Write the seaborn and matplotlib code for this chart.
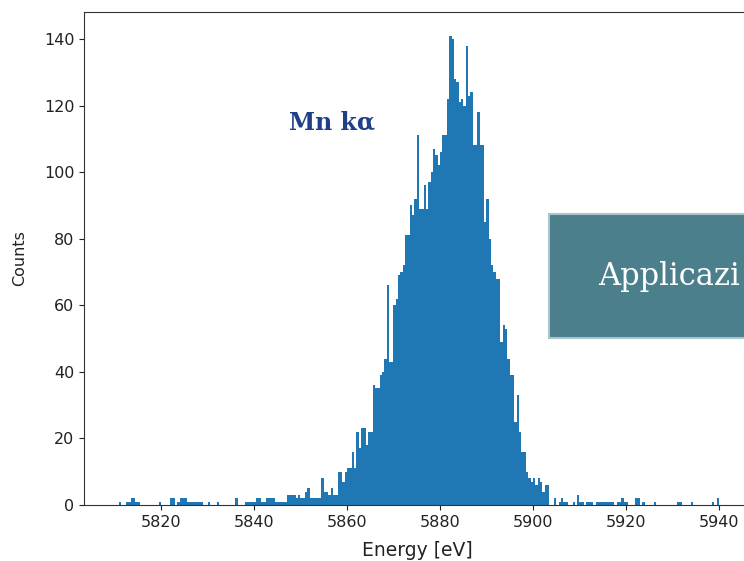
import numpy as np
import pandas as pd
import matplotlib
matplotlib.use("Agg")
import matplotlib.pyplot as plt
import seaborn as sns
from matplotlib.patches import Rectangle

# ---- data: Mn K-alpha spectrum, counts per 0.5 eV bin starting at 5810 eV ----
bin_start = 5810.0
bin_width = 0.5
counts = [
    0, 0, 1, 0, 0, 1, 1, 2, 2, 1,          # 5810-5815
    1, 0, 0, 0, 0, 0, 0, 0, 0, 1,          # 5815-5820
    0, 0, 0, 0, 2, 2, 0, 1, 2, 2,          # 5820-5825
    2, 1, 1, 1, 1, 1, 1, 1, 0, 0,          # 5825-5830
    1, 0, 0, 0, 1, 0, 0, 0, 0, 0,          # 5830-5835
    0, 0, 2, 0, 0, 0, 1, 1, 1, 1,          # 5835-5840
    1, 2, 2, 1, 1, 2, 2, 2, 2, 1,          # 5840-5845
    1, 1, 1, 1, 3, 3, 3, 3, 2, 3,          # 5845-5850
    2, 2, 4, 5, 2, 2, 2, 2, 2, 8,          # 5850-5855
    4, 4, 3, 5, 3, 3, 10, 10, 7, 10,       # 5855-5860
    11, 11, 16, 11, 22, 17, 23, 23, 18, 22,  # 5860-5865
    22, 36, 35, 35, 39, 40, 44, 66, 43, 43,  # 5865-5870
    60, 62, 69, 70, 72, 81, 81, 90, 87, 92,  # 5870-5875
    111, 89, 89, 96, 89, 97, 100, 107, 105, 102,  # 5875-5880
    106, 111, 111, 122, 141, 140, 128, 127, 121, 122,  # 5880-5885
    120, 138, 123, 124, 108, 108, 118, 108, 108, 85,  # 5885-5890
    92, 80, 72, 70, 68, 68, 49, 54, 53, 44,  # 5890-5895
    39, 39, 25, 33, 22, 16, 16, 10, 8, 7,    # 5895-5900
    8, 6, 8, 7, 4, 6, 6, 0, 0, 2,            # 5900-5905
    0, 1, 2, 1, 1, 0, 0, 1, 0, 3,            # 5905-5910
    1, 1, 0, 1, 1, 1, 0, 1, 1, 1,            # 5910-5915
    1, 1, 1, 1, 1, 0, 1, 1, 2, 1,            # 5915-5920
    1, 0, 0, 0, 2, 2, 0, 1, 0, 0,            # 5920-5925
    0, 0, 1, 0, 0, 0, 0, 0, 0, 0,            # 5925-5930
    0, 0, 1, 1, 0, 0, 0, 0, 1, 0,            # 5930-5935
    0, 0, 0, 0, 0, 0, 0, 1, 0, 2,            # 5935-5940
    0,                                       # 5940-5940.5
]
x_ticks = [5820, 5840, 5860, 5880, 5900, 5920, 5940]
y_ticks = [0, 20, 40, 60, 80, 100, 120, 140]
peak_label = "Mn kα"
box_label = "Applicazi"

edges = bin_start + bin_width * np.arange(len(counts) + 1)
centers = (edges[:-1] + edges[1:]) / 2
df = pd.DataFrame({"energy": centers, "counts": counts})

# ---- figure ----
W, H = 744, 561
fig = plt.figure(figsize=(W / 100, H / 100), dpi=100)
ax = fig.add_axes([84 / W, (H - 505) / H, 666 / W, 493 / H])

sns.histplot(data=df, x="energy", weights="counts", bins=list(edges),
             color="#1f77b4", alpha=1, linewidth=0, ax=ax)

ax.set_xlim(5803.44, 5946.67)
ax.set_ylim(0, 148.1)
ax.set_xticks(x_ticks)
ax.set_yticks(y_ticks)
ax.tick_params(labelsize=11.5, colors="#222222")
for s in ax.spines.values():
    s.set_color("#333333")
ax.set_xlabel("Energy [eV]", fontsize=13.5, color="#222222", labelpad=8)
ax.set_ylabel("Counts", fontsize=11.5, color="#222222", labelpad=12)

# peak annotation
fig.text(289 / W, 1 - 122 / H, peak_label, family="DejaVu Serif",
         fontweight="bold", fontsize=17, color="#1F3F87",
         ha="left", va="center")

# overlay slide box (partially cut by the right edge)
box = Rectangle((549 / W, 1 - 338 / H), (760 - 549) / W, (338 - 214) / H,
                transform=fig.transFigure, facecolor="#4A7F8B",
                edgecolor="#A9C4CA", linewidth=1.5, clip_on=False, zorder=5)
fig.patches.append(box)
fig.text(598 / W, 1 - 277 / H, box_label, family="DejaVu Serif",
         fontsize=22, color="white", ha="left", va="center", zorder=6)

fig.savefig("out.png", dpi=100)
